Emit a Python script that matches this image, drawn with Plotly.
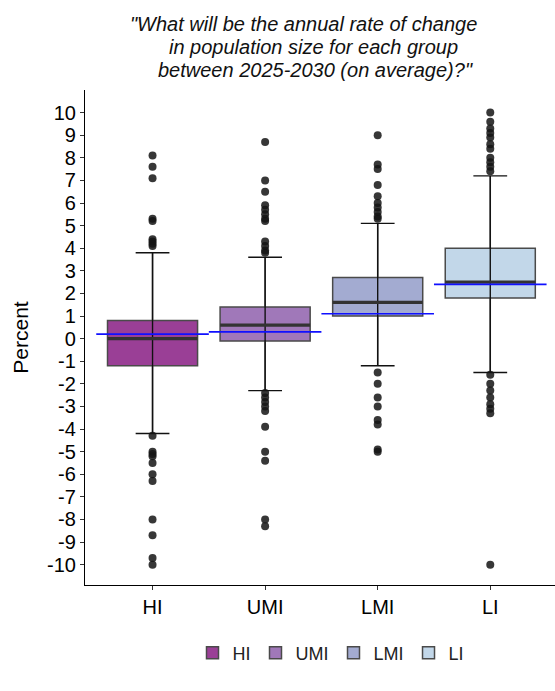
import plotly.graph_objects as go

# Income groups and their box colours (BuPu palette at 80% opacity)
groups = ["HI", "UMI", "LMI", "LI"]
fills = ["rgba(129,15,124,0.8)", "rgba(136,86,167,0.8)",
         "rgba(140,150,198,0.8)", "rgba(179,205,227,0.8)"]

# Box summary statistics (percent per year)
q1 = [-1.2, -0.1, 1.0, 1.8]
medians = [0.0, 0.6, 1.6, 2.5]
q3 = [0.8, 1.4, 2.7, 4.0]
whisker_low = [-4.2, -2.3, -1.2, -1.5]
whisker_high = [3.8, 3.6, 5.1, 7.2]
means = [0.2, 0.3, 1.1, 2.4]

# Outlying responses per group
hi_outliers = [8.1, 7.6, 7.1, 5.3, 5.2, 4.4, 4.3, 4.2, 4.1,
               -4.3, -5.0, -5.1, -5.2, -5.5, -6.0, -6.3, -8.0, -8.7, -9.7, -10.0]
umi_outliers = [8.7, 7.0, 6.5, 5.9, 5.7, 5.5, 5.3, 5.2, 4.3, 4.1, 3.9, 3.8,
                -2.4, -2.6, -2.8, -3.0, -3.2, -3.9, -5.0, -5.4, -8.0, -8.3]
lmi_outliers = [9.0, 7.7, 7.5, 6.8, 6.3, 6.0, 5.8, 5.6, 5.4, 5.3,
                -1.5, -2.0, -2.6, -3.0, -3.6, -3.8, -4.9, -5.0]
li_outliers = [10.0, 9.6, 9.3, 9.1, 8.9, 8.6, 8.4, 8.0, 7.8, 7.6, 7.4,
               -1.6, -2.0, -2.3, -2.6, -2.9, -3.1, -3.3, -10.0]
outliers = [hi_outliers, umi_outliers, lmi_outliers, li_outliers]

y_ticks = list(range(-10, 11))

# Title, one line per entry
title_lines = [
    '"What will be the annual rate of change',
    'in population size for each group',
    'between 2025-2030 (on average)?"',
]

positions = [i + 1 for i in range(len(groups))]
BOX_W = 0.8
CAP_HALF = 0.15
MEAN_HALF = 0.5
FONT = "Liberation Sans, Arial, sans-serif"

W, H = 555, 691
M_L, M_R, M_T, M_B = 85, 0, 90, 106
PLOT_W = W - M_L - M_R
PLOT_H = H - M_T - M_B

fig = go.Figure()

# boxes
for i, g in enumerate(groups):
    fig.add_trace(go.Box(
        x=[positions[i]], q1=[q1[i]], median=[medians[i]], q3=[q3[i]],
        lowerfence=[whisker_low[i]], upperfence=[whisker_high[i]],
        width=BOX_W, whiskerwidth=0, boxpoints=False,
        fillcolor=fills[i], line=dict(color="#4a4a4a", width=1.5),
        name=g, showlegend=True, hoverinfo="skip",
    ))

# whiskers with caps, drawn through the box
for i in range(len(groups)):
    p = positions[i]
    xs = [p, p, None, p - CAP_HALF, p + CAP_HALF, None, p - CAP_HALF, p + CAP_HALF]
    ys = [whisker_low[i], whisker_high[i], None,
          whisker_low[i], whisker_low[i], None,
          whisker_high[i], whisker_high[i]]
    fig.add_trace(go.Scatter(x=xs, y=ys, mode="lines",
                             line=dict(color="#111111", width=1.4),
                             showlegend=False, hoverinfo="skip"))

# thick median bars
for i in range(len(groups)):
    p = positions[i]
    fig.add_trace(go.Scatter(x=[p - BOX_W / 2, p + BOX_W / 2],
                             y=[medians[i], medians[i]], mode="lines",
                             line=dict(color="#333333", width=3.2),
                             showlegend=False, hoverinfo="skip"))

# group means in blue
for i in range(len(groups)):
    p = positions[i]
    fig.add_trace(go.Scatter(x=[p - MEAN_HALF, p + MEAN_HALF],
                             y=[means[i], means[i]], mode="lines",
                             line=dict(color="#1010ff", width=1.6),
                             showlegend=False, hoverinfo="skip"))

# outliers
for i in range(len(groups)):
    fig.add_trace(go.Scatter(x=[positions[i]] * len(outliers[i]), y=outliers[i],
                             mode="markers",
                             marker=dict(color="rgba(20,20,20,0.85)", size=8),
                             showlegend=False, hoverinfo="skip"))

# italic title, each line centred on its own point
line_centres_x = [303, 313, 315]
line_centres_y = [24, 47, 70]
for text, cx, cy in zip(title_lines, line_centres_x, line_centres_y):
    fig.add_annotation(
        text="<i>" + text + "</i>",
        xref="paper", yref="paper",
        x=(cx - M_L) / PLOT_W, y=1 + (M_T - cy) / PLOT_H,
        xanchor="center", yanchor="middle", showarrow=False,
        font=dict(size=20, color="#111111", family=FONT),
    )

fig.update_layout(
    width=W, height=H,
    margin=dict(l=M_L, r=M_R, t=M_T, b=M_B),
    paper_bgcolor="white", plot_bgcolor="white",
    font=dict(family=FONT, color="black"),
    showlegend=True,
    legend=dict(orientation="h", x=(331 - M_L) / PLOT_W, xanchor="center",
                y=-(653 - (H - M_B)) / PLOT_H, yanchor="middle",
                font=dict(size=18, color="#222222"),
                traceorder="normal"),
)

fig.update_xaxes(
    range=[0.4, 4.575], tickvals=positions, ticktext=groups,
    showline=True, linecolor="black", linewidth=1.2,
    ticks="outside", ticklen=4, tickcolor="#333333",
    tickfont=dict(size=20, color="black"),
    showgrid=False, zeroline=False,
)
fig.update_yaxes(
    range=[-10.9, 11.0], tickvals=y_ticks, ticktext=[str(v) for v in y_ticks],
    showline=True, linecolor="black", linewidth=1.2,
    ticks="outside", ticklen=4, tickcolor="#333333",
    tickfont=dict(size=20, color="black"),
    title=dict(text="Percent", font=dict(size=21, color="black"), standoff=12),
    showgrid=False, zeroline=False,
)

fig.write_html("out.html")
